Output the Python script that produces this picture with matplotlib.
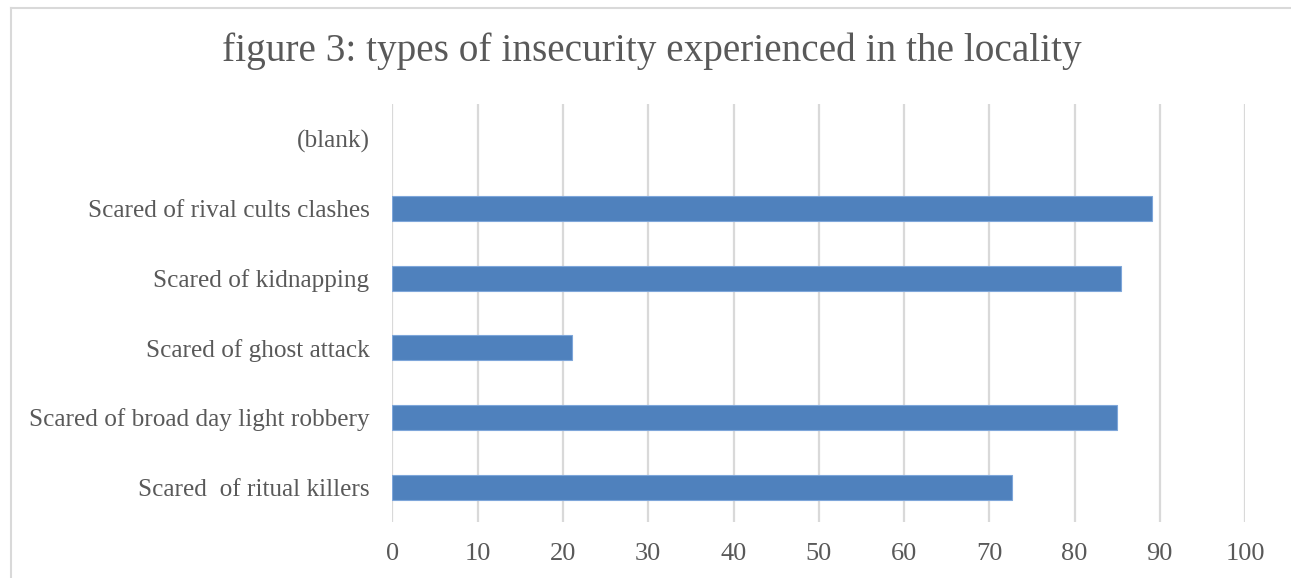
import matplotlib
matplotlib.use("Agg")
import matplotlib.pyplot as plt
from matplotlib.lines import Line2D

categories = ["Scared  of ritual killers", "Scared of broad day light robbery",
              "Scared of ghost attack", "Scared of kidnapping",
              "Scared of rival cults clashes", "(blank)"]
values = [72.7, 85.0, 21.1, 85.5, 89.05, 0]
xticks = [0, 10, 20, 30, 40, 50, 60, 70, 80, 90, 100]

W, H = 1291, 578
fig = plt.figure(figsize=(W/100, H/100), dpi=100)
ax = fig.add_axes([392.5/W, 1-522/H, (1245-392.5)/W, (522-104)/H])

font = "Liberation Serif"
tc = "#595959"
ypos = list(range(len(categories)))
ax.barh(ypos[:5], values[:5], height=0.36, color="#4F81BD", edgecolor="#7EA6DA", linewidth=0.8, zorder=3)
ax.set_xlim(0, 100)
ax.set_ylim(-0.5, 5.5)
ax.set_xticks(xticks)
ax.set_xticklabels([str(t) for t in xticks], fontsize=19, family=font, color=tc)
ax.set_yticks(ypos)
ax.set_yticklabels(categories, fontsize=18.2, family=font, color=tc)
ax.tick_params(axis="y", length=0, pad=16.5)
ax.tick_params(axis="x", length=0, pad=15)
for s in ax.spines.values():
    s.set_visible(False)
ax.grid(axis="x", color="#D9D9D9", linewidth=1.6, zorder=0)
ax.set_axisbelow(True)

fig.text(652/W, 1-51/H, "figure 3: types of insecurity experienced in the locality",
         ha="center", va="center", fontsize=28.3, family=font, color=tc)

fig.add_artist(Line2D([10.5/W, 10.5/W], [0, 1-7.5/H], color="#D9D9D9", linewidth=1.5, transform=fig.transFigure))
fig.add_artist(Line2D([10.5/W, 1], [1-7.5/H, 1-7.5/H], color="#D9D9D9", linewidth=1.5, transform=fig.transFigure))

fig.savefig("out.png", dpi=100)
